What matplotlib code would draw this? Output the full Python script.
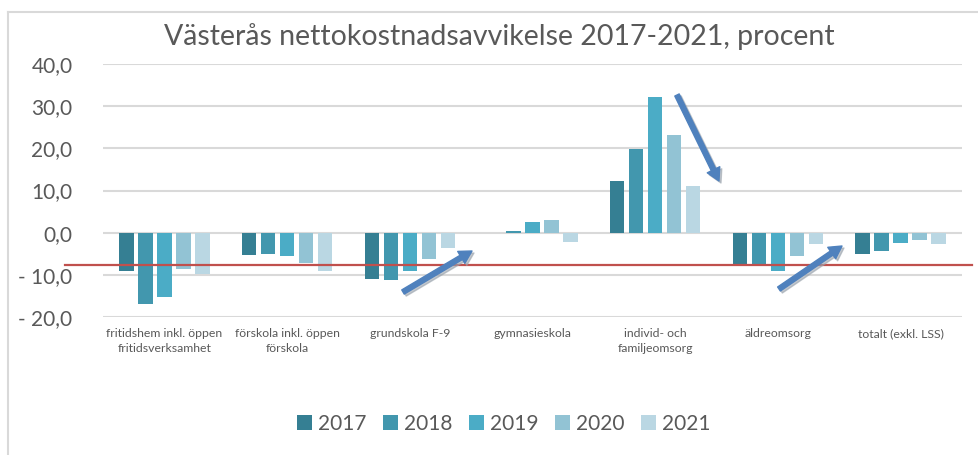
import matplotlib
matplotlib.use("Agg")
import matplotlib.pyplot as plt
import numpy as np
from matplotlib.lines import Line2D
from matplotlib.patches import FancyArrowPatch
from matplotlib.ticker import FuncFormatter

plt.rcParams['font.family'] = ['Lato', 'DejaVu Sans']

title = "Västerås nettokostnadsavvikelse 2017-2021, procent"
categories = ["fritidshem inkl. öppen\nfritidsverksamhet",
              "förskola inkl. öppen\nförskola",
              "grundskola F-9",
              "gymnasieskola",
              "individ- och\nfamiljeomsorg",
              "äldreomsorg",
              "totalt (exkl. LSS)"]
years = ["2017", "2018", "2019", "2020", "2021"]
v2017 = [-9.0, -5.4, -11.1, 0.0, 12.3, -7.7, -5.1]
v2018 = [-17.0, -5.1, -11.2, 0.4, 19.8, -7.7, -4.3]
v2019 = [-15.2, -5.5, -9.0, 2.5, 32.2, -9.2, -2.5]
v2020 = [-8.5, -7.1, -6.3, 3.0, 23.1, -5.5, -1.7]
v2021 = [-9.9, -9.2, -3.7, -2.1, 11.1, -2.8, -2.6]
series = [v2017, v2018, v2019, v2020, v2021]
colors = ["#357f93", "#4297ae", "#4bacc6", "#92c3d4", "#bad7e3"]
ref_level = -7.7
yticks = [-20, -10, 0, 10, 20, 30, 40]

W, H = 979, 455
fig = plt.figure(figsize=(W / 100, H / 100), dpi=100)
ax = fig.add_axes([103 / W, 1 - 317 / H, 859 / W, (317 - 64) / H])

x = np.arange(len(categories))
pitch = 0.155
width = 0.118
for i, (vals, col, yr) in enumerate(zip(series, colors, years)):
    ax.bar(x + (i - 2) * pitch, vals, width=width, color=col, label=yr, zorder=3)

ax.set_xlim(-0.5, len(categories) - 0.5)
ax.set_ylim(-20, 40)
ax.set_yticks(yticks)
ax.yaxis.grid(True, color="#d9d9d9", linewidth=1.5, zorder=0)
ax.set_axisbelow(True)
for s in ax.spines.values():
    s.set_visible(False)


def fmt(v, pos):
    s = f"{abs(v):.1f}".replace('.', ',')
    return ("- " + s) if v < 0 else s


ax.yaxis.set_major_formatter(FuncFormatter(fmt))
ax.tick_params(axis='y', length=0, pad=22, labelsize=15, labelcolor="#595959")
ax.set_xticks(x)
ax.set_xticklabels(categories, fontsize=8.8, color="#595959", linespacing=1.45)
ax.tick_params(axis='x', length=0, pad=8)

# red reference line
ax.axhline(ref_level, xmin=(65 - 103) / 859, xmax=(972 - 103) / 859,
           color="#c0504d", linewidth=1.6, clip_on=False, zorder=4)

fig.text(0.510, 1 - 37 / H, title, ha='center', va='center', fontsize=20.5,
         color="#595959")

leg = fig.legend(loc='center', bbox_to_anchor=(504 / W, 1 - 424 / H), ncol=5,
                 frameon=False, fontsize=15, handlelength=0.7, handleheight=0.7,
                 handletextpad=0.3, columnspacing=0.8)
for t in leg.get_texts():
    t.set_color("#595959")

# chart frame (top and left edges)
fig.add_artist(Line2D([8 / W, 1], [1 - 12 / H, 1 - 12 / H], color="#d9d9d9",
                      linewidth=1.5, transform=fig.transFigure))
fig.add_artist(Line2D([8 / W, 8 / W], [1 - 12 / H, 0], color="#d9d9d9",
                      linewidth=1.5, transform=fig.transFigure))

# annotation arrows
arrows = [((403, 292), (472, 251)), ((677, 95), (719, 181)), ((779, 289), (842, 246))]
for (x0, y0), (x1, y1) in arrows:
    for off, col, z in [((2, -2), "#9aa3ad", 5), ((0, 0), "#4f81bd", 6)]:
        p = FancyArrowPatch(((x0 + off[0]) / W, 1 - (y0 - off[1]) / H),
                            ((x1 + off[0]) / W, 1 - (y1 - off[1]) / H),
                            transform=fig.transFigure,
                            arrowstyle="simple,head_length=9,head_width=10,tail_width=3.5",
                            mutation_scale=1, color=col, shrinkA=0, shrinkB=0,
                            zorder=z, alpha=0.6 if off != (0, 0) else 1)
        fig.add_artist(p)

fig.savefig("out.png", dpi=100)
